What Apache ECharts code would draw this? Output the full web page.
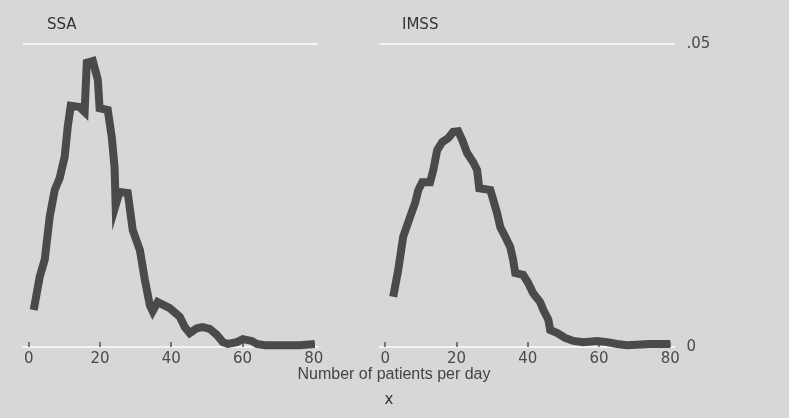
<!DOCTYPE html>
<html>
<head>
<meta charset="utf-8">
<script src="https://cdn.jsdelivr.net/npm/echarts@6/dist/echarts.min.js"></script>
<style>
html,body{margin:0;padding:0;background:#d7d7d7;}
#chart{width:789px;height:418px;}
</style>
</head>
<body>
<div id="chart"></div>
<script>
// ---- data ----
var panelTitles = ['SSA', 'IMSS'];
var xTicks = [0, 20, 40, 60, 80];
var yTicks = [0, 0.05];
var xTitle = 'Number of patients per day';
var byTitle = 'x';

var ssaX = [1.4, 3.1, 4.5, 5.9, 7.3, 8.7, 10.1, 10.95, 11.8, 14.3, 15.7, 16.3, 18.0, 19.4, 19.9, 22.2, 23.3, 24.1, 24.4, 25.5, 27.8, 29.2, 31.2, 32.6, 34.0, 34.8, 36.2, 39.6, 42.4, 43.8, 45.2, 47.2, 48.8, 50.8, 52.8, 54.5, 55.9, 58.4, 60.1, 62.6, 64.0, 66.3, 76.1, 80.3];
var ssaY = [0.0061, 0.0116, 0.0144, 0.0215, 0.0259, 0.0279, 0.0314, 0.0363, 0.0398, 0.0396, 0.0388, 0.0469, 0.0472, 0.0441, 0.0394, 0.0391, 0.0347, 0.0297, 0.0234, 0.0256, 0.0254, 0.0193, 0.0160, 0.0111, 0.0069, 0.0059, 0.0074, 0.0064, 0.0050, 0.0033, 0.0023, 0.0031, 0.0033, 0.0030, 0.0020, 0.0008, 0.0005, 0.0008, 0.0013, 0.0010, 0.0005, 0.0003, 0.0003, 0.0005];

var imssX = [2.25, 3.65, 5.05, 7.0, 8.4, 9.3, 10.4, 12.6, 13.5, 14.6, 16.0, 17.7, 19.1, 20.5, 21.6, 23.0, 24.7, 25.8, 26.4, 29.5, 30.3, 31.4, 32.3, 33.7, 35.1, 35.9, 36.5, 38.7, 40.1, 41.5, 43.5, 44.4, 45.8, 46.3, 48.3, 50.5, 52.8, 55.6, 59.5, 62.3, 65.1, 67.9, 74.4, 80.0];
var imssY = [0.0083, 0.0127, 0.0182, 0.0215, 0.0238, 0.0259, 0.0272, 0.0272, 0.0292, 0.0325, 0.0338, 0.0345, 0.0355, 0.0356, 0.0342, 0.0320, 0.0305, 0.0292, 0.0262, 0.0259, 0.0243, 0.0221, 0.0198, 0.0182, 0.0165, 0.0144, 0.0122, 0.0119, 0.0106, 0.0089, 0.0074, 0.0061, 0.0045, 0.0028, 0.0023, 0.0015, 0.0010, 0.0008, 0.0010, 0.0008, 0.0005, 0.0003, 0.0005, 0.0005];

function pairs(xs, ys) { return xs.map(function (x, i) { return [x, ys[i]]; }); }

var FONT = 'DejaVu Sans';
var chart = echarts.init(document.getElementById('chart'), null, {renderer: 'canvas'});

function makeX(idx) {
  return {
    type: 'value', gridIndex: idx, min: -1.6, max: 81.2,
    axisLine: {show: true, lineStyle: {color: '#f4f4f4', width: 2}},
    axisTick: {show: true, inside: true, length: 5, customValues: xTicks, lineStyle: {color: '#555', width: 1.5}},
    axisLabel: {show: true, customValues: xTicks, margin: 5, color: '#4a4a4a', fontFamily: FONT, fontSize: 15},
    splitLine: {show: false}
  };
}
function makeY(idx, showLabels) {
  return {
    type: 'value', gridIndex: idx, min: 0, max: 0.05, interval: 0.05, position: 'right',
    axisLine: {show: false}, axisTick: {show: false},
    axisLabel: {show: showLabels, margin: 12, color: '#4a4a4a', fontFamily: FONT, fontSize: 15,
      formatter: function (v) { return v === 0 ? '0' : String(v).replace(/^0/, ''); }},
    splitLine: {show: true, lineStyle: {color: ['rgba(0,0,0,0)', '#f4f4f4'], width: 2}}
  };
}

var lineStyle = {color: '#4a4a4a', width: 8, cap: 'butt', join: 'miter'};

chart.setOption({
  backgroundColor: '#d7d7d7',
  animation: false,
  title: [
    {text: panelTitles[0], left: 42, top: 13, textStyle: {fontFamily: FONT, fontSize: 15, fontWeight: 'normal', color: '#333'}},
    {text: panelTitles[1], left: 397, top: 13, textStyle: {fontFamily: FONT, fontSize: 15, fontWeight: 'normal', color: '#333'}},
    {text: xTitle, left: 389, top: 362, textAlign: 'center', textStyle: {fontFamily: 'Liberation Sans', fontSize: 16, fontWeight: 'normal', color: '#444'}},
    {text: byTitle, left: 384, top: 388, textAlign: 'center', textStyle: {fontFamily: FONT, fontSize: 15, fontWeight: 'normal', color: '#333'}}
  ],
  grid: [
    {left: 23, width: 295, top: 44, height: 303},
    {left: 379.5, width: 295, top: 44, height: 303}
  ],
  xAxis: [makeX(0), makeX(1)],
  yAxis: [makeY(0, false), makeY(1, true)],
  series: [
    {type: 'line', xAxisIndex: 0, yAxisIndex: 0, data: pairs(ssaX, ssaY), showSymbol: false, symbol: 'none', lineStyle: lineStyle, clip: false},
    {type: 'line', xAxisIndex: 1, yAxisIndex: 1, data: pairs(imssX, imssY), showSymbol: false, symbol: 'none', lineStyle: lineStyle, clip: false}
  ]
});
</script>
</body>
</html>
